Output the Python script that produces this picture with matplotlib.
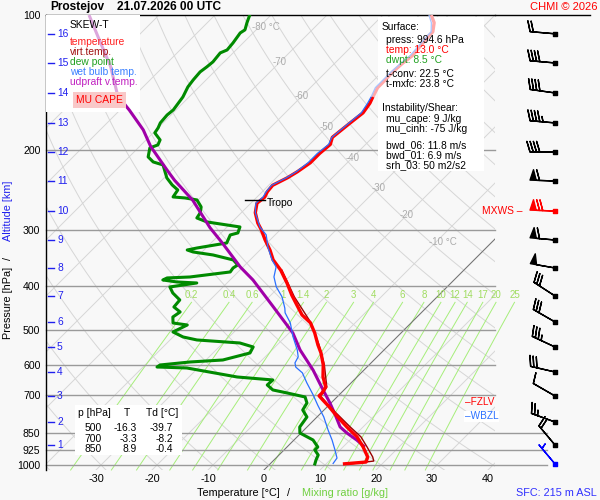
import numpy as np
import matplotlib
matplotlib.use('Agg')
import matplotlib.pyplot as plt
from matplotlib.patches import Rectangle
from matplotlib.transforms import blended_transform_factory

plt.rcParams['font.family'] = ['Liberation Sans', 'DejaVu Sans']

# ---------------- data ----------------
temp_p = np.array([100,104,109,111,115,123,128,134,141,145,152,157,165,174,187,194,203,213,223,230,239,247,254,262,275,290,300,316,333,350,369,394,419,441,464,483,509,541,564,599,637,671,692,702,717,743,774,823,866,912,960,985,994.6])
temp_T = np.array([-51.4,-49.5,-48.1,-48.1,-47.9,-47.5,-47.9,-48.1,-48.0,-48.0,-47.2,-46.6,-46.1,-46.6,-47.2,-46.3,-46.6,-46.6,-47.3,-48.0,-49.3,-49.1,-48.6,-48.9,-47.5,-45.2,-43.4,-40.9,-38.2,-35.9,-32.7,-29.3,-26.3,-23.6,-20.9,-18.0,-15.4,-12.7,-10.7,-8.2,-6.1,-3.8,-3.4,-3.4,-2.0,0.4,3.0,7.1,10.7,13.6,16.2,16.8,13.0])
tv_p = np.array([369,423,483,541,599,671,692,702,717,743,774,823,866,912,960,980,994.6])
tv_T = np.array([-32.5,-25.5,-17.9,-12.5,-8.0,-3.6,-3.2,-3.2,-1.8,0.5,3.4,7.7,11.4,14.3,17.1,18.0,14.3])
wb_p = np.array([100,104,109,111,115,123,128,134,141,145,152,157,165,174,187,194,203,213,223,230,239,247,254,262,275,296,308,328,350,363,382,402,423,448,459,483,519,555,575,593,606,624,657,699,736,782,836,880,926,965,994.6])
wb_T = np.array([-51.8,-50.0,-48.4,-48.4,-48.2,-47.9,-48.2,-48.4,-48.4,-48.4,-47.5,-47.0,-46.4,-46.8,-47.3,-46.6,-47.0,-47.0,-47.5,-48.2,-49.5,-49.3,-48.9,-49.1,-47.5,-44.1,-41.6,-39.1,-36.1,-34.1,-32.7,-30.5,-27.7,-25.2,-24.3,-21.6,-18.6,-15.5,-14.1,-13.6,-12.7,-10.5,-7.9,-4.6,-2.0,1.2,4.3,6.8,9.1,10.9,11.2])
par_p = np.array([100,115,130,151,163,180,196,221,233,258,297,321,363,388,445,509,555,615,674,728,774,823,849,880,912])
par_T = np.array([-112.5,-105.6,-99.5,-93.0,-88.2,-82.3,-78.0,-70.9,-67.7,-60.9,-52.9,-48.0,-40.5,-35.9,-27.5,-19.3,-15.0,-9.1,-4.3,-0.2,2.9,5.9,8.2,11.2,13.9])
dew_p = np.array([100.0,104.1,107.9,109.6,115.4,119.6,121.4,127.1,130.4,133.8,139.4,144.5,152.1,162.5,166.8,173.7,178.2,182.8,189.5,194.4,197.4,206.7,212.1,215.4,223.2,230.2,238.6,244.8,253.7,255.0,257.6,267.0,275.4,282.5,288.3,292.8,295.8,305.0,308.2,321.1,329.4,332.8,336.2,341.4,350.2,359.3,364.9,372.4,382.1,384.0,388.0,392.0,394.0,402.1,414.7,429.8,445.5,457.0,468.9,483.5,488.5,506.3,519.4,527.4,535.6,546.7,563.7,584.3,590.3,599.4,605.6,608.7,637.4,647.2,664.0,681.2,691.8,706.1,728.1,754.7,782.2,823.3,848.9,879.9,912.0,926.1,950.1,974.7,994.6])
dew_T = np.array([-83.8,-82.9,-82.0,-82.3,-81.8,-81.6,-82.3,-82.0,-82.2,-82.5,-82.3,-82.0,-81.1,-80.5,-80.7,-80.5,-80.0,-79.7,-77.5,-77.0,-77.9,-76.6,-74.8,-72.5,-70.9,-69.5,-67.3,-65.4,-65.0,-62.7,-60.2,-58.2,-57.3,-57.0,-54.5,-50.4,-47.7,-47.0,-48.0,-47.2,-51.6,-53.0,-51.6,-47.5,-43.0,-41.3,-41.6,-41.4,-47.7,-51.6,-52.0,-49.1,-45.4,-49.5,-47.9,-45.4,-45.2,-43.2,-43.6,-42.5,-39.6,-40.9,-38.2,-35.2,-27.0,-23.9,-23.4,-27.0,-32.5,-37.3,-37.5,-32.0,-21.4,-14.5,-14.6,-12.7,-9.6,-5.7,-4.3,-3.8,-1.8,-1.3,-0.2,3.4,5.5,5.5,7.0,7.5,8.0])

alt_km = list(range(1, 17))
alt_p = [902.7, 802.5, 702.5, 621.3, 546.7, 481.0, 421.1, 364.9, 316.2, 272.6, 233.8, 201.5, 173.7, 149.0, 127.8, 110.1]
wind_p = [994.6] + alt_p
wind_dir = [320, 320, 290, 300, 283, 295, 300, 303, 280, 275, 272, 272, 270, 275, 278, 275, 275]
wind_spd = [5, 20, 25, 10, 30, 35, 30, 30, 50, 60, 70, 60, 40, 45, 40, 40, 20]
wind_col = ['blue'] + ['black'] * 9 + ['red'] + ['black'] * 6

p_ticks = [100, 200, 300, 400, 500, 600, 700, 850, 925, 1000]
p_levels = [200, 300, 400, 500, 600, 700, 850, 925, 1000]
p_long = [850, 925, 1000]
t_ticks = [-30, -20, -10, 0, 10, 20, 30, 40]
mix_w = [0.2, 0.4, 0.6, 1, 1.4, 2, 3, 4, 6, 8, 10, 12, 14, 17, 20, 25]
mix_lbl = ['0.2', '0.4', '0.6', '1', '1.4', '2', '3', '4', '6', '8', '10', '12', '14', '17', '20', '25']
iso_lbl_T = [-80, -70, -60, -50, -40, -30, -20, -10]
iso_lbl_p = [106.3, 127.3, 151.5, 177.8, 207.8, 241.9, 278.5, 318.8]
tropo_p = 258
fzlv_p = 743
wbzl_p = 774
tab_p = ['500', '700', '850']
tab_T = ['-16.3', '-3.3', '8.9']
tab_Td = ['-39.7', '-8.2', '-0.4']

# ---------------- layout ----------------
SKEW = 34.9
P_BOT = 1025.9
BG = '#f8f8f8'
W, H = 600, 500
def fx(x): return x / W
def fy(y): return 1 - y / H
def sx(T, p): return np.asarray(T) + SKEW * np.log(P_BOT / np.asarray(p, float))

fig = plt.figure(figsize=(6, 5), dpi=100, facecolor=BG)
ax = fig.add_axes([fx(46), fy(470), 449 / W, 455 / H])
ax.set_facecolor(BG)
ax.set_yscale('log')
ax.set_ylim(P_BOT, 100)
XL = (-38.93, 41.25)
ax.set_xlim(*XL)

pp = np.geomspace(100, P_BOT, 300)
for T0 in range(-150, 60, 10):
    ax.plot(sx(T0, pp), pp, color='#d6d6d6', lw=0.7, zorder=1)
for th in range(-40, 230, 10):
    Tt = (th + 273.15) * (pp / 1000.0) ** 0.2857 - 273.15
    ax.plot(sx(Tt, pp), pp, color='#d6d6d6', lw=0.7, zorder=1)
ax.plot(sx(0, pp), pp, color='#707070', lw=0.7, zorder=2)

pm = np.geomspace(435, P_BOT, 60)
for w, lab in zip(mix_w, mix_lbl):
    e = w * pm / (622 + w)
    le = np.log(e / 6.112)
    Td = 243.5 * le / (17.67 - le)
    ax.plot(sx(Td, pm), pm, color='#a6ee7a', lw=0.7, zorder=1.5, clip_on=False)
    ax.text(sx(Td[0], pm[0]), 419, lab, color='#a0dc60', fontsize=7, ha='center', va='center', clip_on=False, zorder=2)

for p in p_levels:
    xe = 50.5 if p in p_long else XL[1]
    ax.plot([XL[0], xe], [p, p], color='#9a9a9a', lw=1, zorder=2, clip_on=False)

for T0, p in zip(iso_lbl_T, iso_lbl_p):
    if T0 in (-80, -10):
        ax.annotate(f'{T0} °C', xy=(sx(T0, p), p), xytext=(-5.3, 0), textcoords='offset points',
                    ha='left', va='center', color='#ababab', fontsize=7, zorder=2)
    else:
        ax.text(sx(T0, p), p, f'{T0}', ha='center', va='center', color='#ababab', fontsize=7, zorder=2)

def box(x0, y0, x1, y1, fc='white', z=3):
    ax.add_patch(Rectangle((fx(x0), fy(y1)), (x1 - x0) / W, (y1 - y0) / H, transform=fig.transFigure,
                           facecolor=fc, edgecolor='none', zorder=z))
box(46, 15, 140, 112)
box(378, 17, 484, 171)
box(75, 405, 182, 455)

def split_plot(p, T, c_lo, c_hi, lw, z, pcut=148):
    X = sx(T, p)
    idx = np.where(p <= pcut)[0]
    if len(idx):
        k = idx.max()
        ax.plot(X[:k + 2], p[:k + 2], color=c_hi, lw=lw, zorder=z, solid_capstyle='butt')
        ax.plot(X[k + 1:], p[k + 1:], color=c_lo, lw=lw, zorder=z, solid_capstyle='butt')
    else:
        ax.plot(X, p, color=c_lo, lw=lw, zorder=z)

ax.plot(sx(dew_T, dew_p), dew_p, color='#008a00', lw=2.2, zorder=5)
split_plot(par_p, par_T, '#a000a8', '#dca6dc', 2.2, 5, 150)
ax.plot(sx(tv_T, tv_p), tv_p, color='#990000', lw=1.0, zorder=5.5)
split_plot(temp_p, temp_T, '#ff0000', '#ffa8a8', 2.4, 6, 145)
split_plot(wb_p, wb_T, '#2a70ff', '#a8c4ff', 0.9, 6.5, 148)

tT = np.interp(tropo_p, temp_p, temp_T)
tX = sx(tT, tropo_p)
ax.plot([tX - 2.9, tX + 0.7], [tropo_p, tropo_p], color='black', lw=1, zorder=7)
ax.text(tX + 1.0, tropo_p * 1.012, 'Tropo', fontsize=7.4, ha='left', va='center', zorder=7)

trans = blended_transform_factory(ax.transAxes, ax.transData)
ax.annotate('–FZLV', xy=(0.933, fzlv_p), xycoords=trans, xytext=(0, 3.5), textcoords='offset points',
            color='red', fontsize=7.2, ha='left', va='center', zorder=8, annotation_clip=False)
ax.annotate('–WBZL', xy=(0.933, wbzl_p), xycoords=trans, xytext=(0, -1), textcoords='offset points',
            color='#2a70ff', fontsize=7.2, ha='left', va='center', zorder=9, annotation_clip=False,
            bbox=dict(facecolor='white', edgecolor='none', pad=0.4))

for k, p in zip(alt_km, alt_p):
    ax.plot([0.0045, 0.018], [p, p], color='#2020ee', lw=1, transform=trans, zorder=8, clip_on=False)
    ax.text(0.0245, p, str(k), color='#2020ee', fontsize=7.4, ha='left', va='center', transform=trans, zorder=8)

ax.set_yticks(p_ticks)
ax.set_yticklabels([str(p) for p in p_ticks])
ax.yaxis.set_minor_locator(matplotlib.ticker.NullLocator())
ax.set_xticks(t_ticks)
ax.set_xticklabels([str(t) for t in t_ticks])
ax.tick_params(axis='y', length=0, pad=4, labelsize=7.6)
ax.tick_params(axis='x', length=0, pad=3, labelsize=7.8)
for s in ('right', 'bottom'):
    ax.spines[s].set_visible(False)
for s in ('left', 'top'):
    ax.spines[s].set_color('black')
    ax.spines[s].set_linewidth(1)

bax = fig.add_axes([fx(495), fy(470), 95 / W, 455 / H], sharey=ax)
bax.set_facecolor('none')
bax.set_xlim(0, 95)
bax.tick_params(left=False, labelleft=False, bottom=False, labelbottom=False)
for s in ('left', 'right', 'bottom'):
    bax.spines[s].set_visible(False)
bax.spines['top'].set_linewidth(1)
d = np.deg2rad(wind_dir)
u = -np.array(wind_spd) * np.sin(d)
v = -np.array(wind_spd) * np.cos(d)
xb = np.full(len(wind_p), 60.0)
bax.barbs(xb, wind_p, u, v, length=6, pivot='tip', linewidth=1, barbcolor=wind_col, flagcolor=wind_col,
          sizes=dict(spacing=0.13, height=0.42, width=0.25), clip_on=False)
bax.scatter(xb, wind_p, marker='s', s=6, c=wind_col, zorder=5, clip_on=False)
bax.text(-13, alt_p[9], 'MXWS –', color='red', fontsize=7.4, ha='left', va='center', clip_on=False)

F = 7.4
fig.text(fx(50), fy(7), 'Prostejov', fontsize=8.6, fontweight='bold', ha='left', va='center')
fig.text(fx(117), fy(7), '21.07.2026 00 UTC', fontsize=8.6, fontweight='bold', ha='left', va='center')
fig.text(fx(597), fy(7), 'CHMI © 2026', fontsize=8, color='red', ha='right', va='center')

for txt, y, c in [('SKEW-T', 25, 'black'), ('temperature', 42, '#ff2020'), ('virt.temp.', 52, '#a01010'),
                  ('dew point', 62, '#20a020'), ('wet bulb temp.', 72, '#3a80ff'), ('udpraft v.temp.', 82, '#c020c0')]:
    fig.text(fx(70), fy(y), txt, fontsize=F, color=c, ha='left', va='center')
fig.text(fx(76), fy(100), 'MU CAPE', fontsize=F, color='red', ha='left', va='center',
         bbox=dict(facecolor='#f9c8c8', edgecolor='none', pad=2.2))

info = [('Surface:', 382, 27, 'black'), ('press: 994.6 hPa', 386, 40, 'black'), ('temp: 13.0 °C', 386, 50, 'red'),
        ('dwpt: 8.5 °C', 386, 60, '#20a020'), ('t-conv: 22.5 °C', 386, 74, 'black'), ('t-mxfc: 23.8 °C', 386, 84, 'black'),
        ('Instability/Shear:', 382, 108, 'black'), ('mu_cape: 9 J/kg', 386, 119, 'black'),
        ('mu_cinh: -75 J/kg', 386, 129, 'black'), ('bwd_06: 11.8 m/s', 386, 145, 'black'),
        ('bwd_01: 6.9 m/s', 386, 155, 'black'), ('srh_03: 50 m2/s2', 386, 165, 'black')]
for txt, x, y, c in info:
    fig.text(fx(x), fy(y), txt, fontsize=F, color=c, ha='left', va='center')

fig.text(fx(78), fy(413), 'p [hPa]', fontsize=F, ha='left', va='center')
fig.text(fx(127), fy(413), 'T', fontsize=F, ha='center', va='center')
fig.text(fx(146), fy(413), 'Td [°C]', fontsize=F, ha='left', va='center')
for i, (a, b, c) in enumerate(zip(tab_p, tab_T, tab_Td)):
    y = 428 + 10.5 * i
    fig.text(fx(102), fy(y), a, fontsize=F, ha='right', va='center')
    fig.text(fx(137), fy(y), b, fontsize=F, ha='right', va='center')
    fig.text(fx(173), fy(y), c, fontsize=F, ha='right', va='center')

fig.text(fx(197), fy(493), 'Temperature [°C]', fontsize=7.8, ha='left', va='center')
fig.text(fx(287), fy(493), '/', fontsize=7.8, ha='left', va='center')
fig.text(fx(302), fy(493), 'Mixing ratio [g/kg]', fontsize=7.8, color='#70d040', ha='left', va='center')
fig.text(fx(597), fy(493), 'SFC: 215 m ASL', fontsize=7.8, color='#3030ff', ha='right', va='center')
fig.text(fx(8), fy(303), 'Pressure [hPa]', fontsize=7.8, rotation=90, ha='center', va='center')
fig.text(fx(8), fy(258), '/', fontsize=7.8, rotation=90, ha='center', va='center')
fig.text(fx(8), fy(211), 'Altitude [km]', fontsize=7.8, color='#2020ee', rotation=90, ha='center', va='center')

fig.savefig('out.png', dpi=100, facecolor=BG)
